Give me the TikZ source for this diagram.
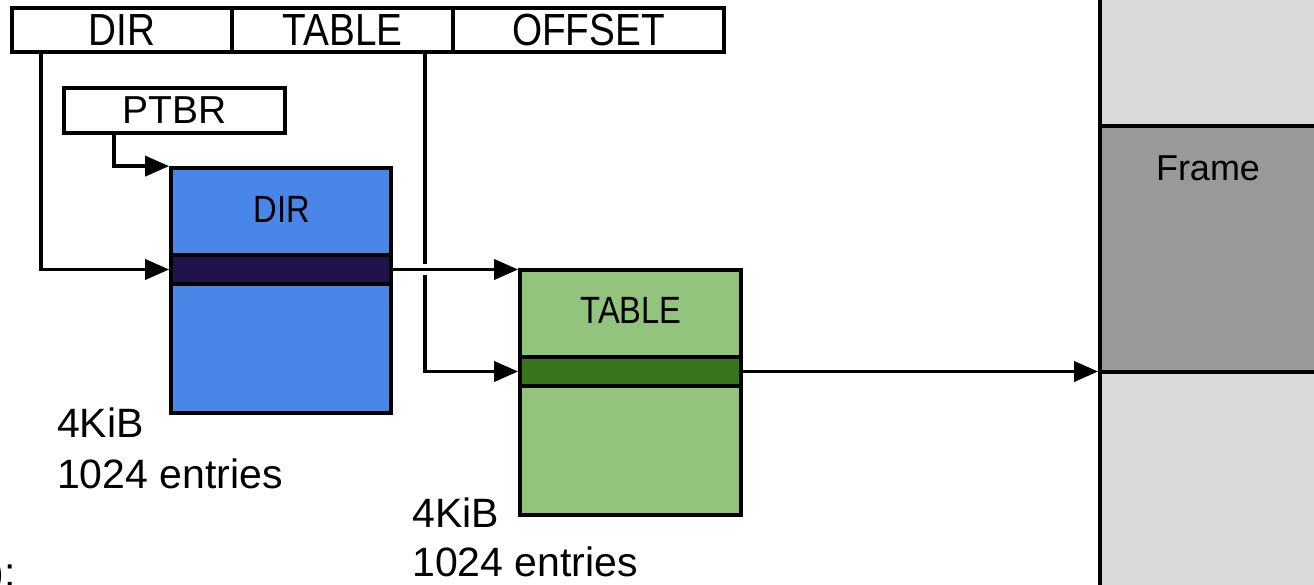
\documentclass[tikz,border=0pt]{standalone}
\usepackage{fontspec}
\setmainfont{Liberation Sans}
\newfontfamily\narrowsans[FakeStretch=0.86]{Liberation Sans}
\usetikzlibrary{arrows.meta,calc}
\definecolor{dirblue}{HTML}{4A86E8}
\definecolor{dirnavy}{HTML}{20124D}
\definecolor{tblgreen}{HTML}{93C47D}
\definecolor{tbldark}{HTML}{38761D}
\definecolor{memlight}{HTML}{D9D9D9}
\definecolor{memframe}{HTML}{999999}
\begin{document}
\begin{tikzpicture}[x=1pt,y=-1pt,
  box/.style={draw, line width=3.8pt, rectangle, inner sep=0pt},
  field/.style={box, fill=white, minimum height=44pt,
    font=\narrowsans\fontsize{45}{50}\selectfont},
  table/.style={box, minimum width=220pt, minimum height=245pt},
  entry/.style={box, minimum width=220pt, minimum height=29pt},
  boxlabel/.style={anchor=base, inner sep=0pt,
    font=\narrowsans\fontsize{38}{44}\selectfont},
  lbl/.style={inner sep=0pt, font=\fontsize{41}{48}\selectfont},
  link/.style={line width=3.8pt},
  arr/.style={link, -{Triangle[length=24pt,width=20pt]}}]
\useasboundingbox (0,0) rectangle (1314,584);

% physical memory column with the selected frame
\draw[box, fill=memlight] (1100,-10) rectangle (1340,600);
\node[box, fill=memframe, minimum width=240pt, minimum height=246pt] (frame) at (1220,249) {};
\node[anchor=base, inner sep=0pt, font=\fontsize{36}{42}\selectfont] (framelbl) at (1208,180) {Frame};

% linear address fields
\node[field, minimum width=220pt] (fdir) at (122,30) {DIR};
\node[field, minimum width=221pt] (ftable) at (342.5,30) {TABLE};
\node[field, minimum width=271pt] (foffset) at (588.5,30) {OFFSET};

% page table base register
\node[box, fill=white, minimum width=221pt, minimum height=45pt,
  font=\fontsize{39}{46}\selectfont] (ptbr) at (174.5,110.5) {PTBR};

% page directory
\node[table, fill=dirblue] (dirbox) at (281,290.5) {};
\node[entry, fill=dirnavy] (dirent) at (281,269.5) {};
\node[boxlabel] (dirlbl) at (282,222) {DIR};
\node[lbl, anchor=base west] (dsize) at (57,437) {4KiB};
\node[lbl, anchor=base west] (dcount) at (57,488) {1024 entries};

% page table
\node[table, minimum width=221pt, fill=tblgreen] (tblbox) at (630.5,392.5) {};
\node[entry, minimum width=221pt, fill=tbldark] (tblent) at (630.5,371.5) {};
\node[boxlabel] (tbllbl) at (631,323) {TABLE};
\node[lbl, anchor=base west] (tsize) at (412,527) {4KiB};
\node[lbl, anchor=base west] (tcount) at (412,576) {1024 entries};

\node[lbl, anchor=base east] (cut) at (16,586) {):};

% taps on the field boxes
\coordinate (dtap) at ($(fdir.south west)+(31,0)$);
\coordinate (ttap) at ($(ftable.south east)+(-30,0)$);
\coordinate (ptap) at ($(ptbr.south west)+(52,0)$);

% connectors
\draw[arr] (ptap) |- (dirbox.north west);
\draw[arr] (dtap) |- (dirent.west);
\draw[arr] (ttap) |- (tblent.west);
\draw[white, line width=11pt] ($(ttap |- dirent.east)+(-6,0)$) -- ($(ttap |- dirent.east)+(6,0)$);
\draw[arr] (dirent.east) -- (dirent.east -| tblbox.west);
\draw[arr] (tblent.east) -- (tblent.east -| frame.west);
\end{tikzpicture}
\end{document}
